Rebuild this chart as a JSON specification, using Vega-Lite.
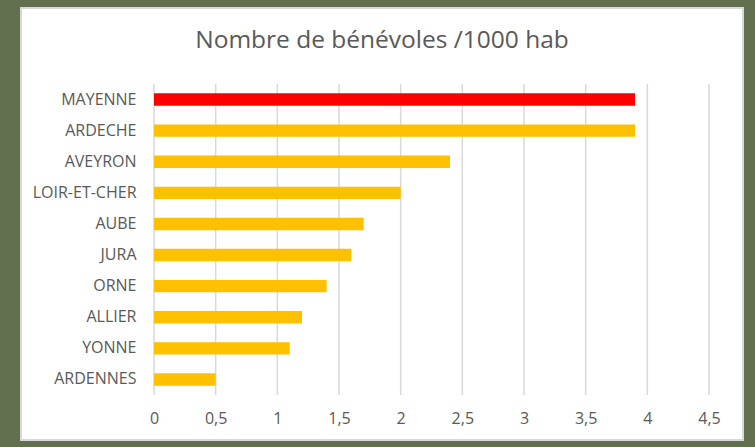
{
  "$schema": "https://vega.github.io/schema/vega-lite/v6.json",
  "autosize": "none",
  "width": 722,
  "height": 432,
  "padding": {"left": 21, "top": 8, "right": 12, "bottom": 7},
  "background": "#637050",
  "config": {
    "view": {"fill": "white", "stroke": "#d9d9d9", "strokeWidth": 2},
    "font": "Open Sans"
  },
  "title": {
    "text": "Nombre de bénévoles /1000 hab",
    "fontSize": 24.5,
    "fontWeight": "normal",
    "color": "#595959",
    "font": "Open Sans",
    "anchor": "middle",
    "frame": "group",
    "baseline": "alphabetic",
    "offset": -64
  },
  "data": {
    "values": [
      {"departement": "MAYENNE", "benevoles": 3.9},
      {"departement": "ARDECHE", "benevoles": 3.9},
      {"departement": "AVEYRON", "benevoles": 2.4},
      {"departement": "LOIR-ET-CHER", "benevoles": 2.0},
      {"departement": "AUBE", "benevoles": 1.7},
      {"departement": "JURA", "benevoles": 1.6},
      {"departement": "ORNE", "benevoles": 1.4},
      {"departement": "ALLIER", "benevoles": 1.2},
      {"departement": "YONNE", "benevoles": 1.1},
      {"departement": "ARDENNES", "benevoles": 0.5}
    ]
  },
  "layer": [
    {
      "data": {"values": [{"v": 0}, {"v": 0.5}, {"v": 1}, {"v": 1.5}, {"v": 2}, {"v": 2.5}, {"v": 3}, {"v": 3.5}, {"v": 4}, {"v": 4.5}]},
      "mark": {"type": "rule", "color": "#d9d9d9", "strokeWidth": 1.5},
      "encoding": {
        "x": {"field": "v", "type": "quantitative"},
        "y": {"datum": 0, "type": "quantitative", "scale": {"domain": [0, 1], "range": [76, 387], "nice": false, "zero": false}, "axis": null},
        "y2": {"datum": 1}
      }
    },
    {
      "mark": {"type": "bar"},
      "encoding": {
        "y": {
          "field": "departement",
          "type": "nominal",
          "sort": null,
          "scale": {"range": [76, 387], "paddingInner": 0.6, "paddingOuter": 0.3},
          "axis": {
            "title": null,
            "domain": false,
            "ticks": false,
            "tickSize": 0,
            "labelPadding": 0,
            "offset": -115,
            "labelFontSize": 16,
            "labelColor": "#595959",
            "labelFont": "Open Sans",
            "grid": false
          }
        },
        "x": {
          "field": "benevoles",
          "type": "quantitative",
          "scale": {"domain": [0, 4.5], "range": [133, 688], "nice": false, "zero": true},
          "axis": {
            "title": null,
            "domain": false,
            "ticks": false,
            "tickSize": 0,
            "values": [0, 0.5, 1, 1.5, 2, 2.5, 3, 3.5, 4, 4.5],
            "labelExpr": "replace(toString(datum.value), '.', ',')",
            "labelFlush": false,
            "offset": -45,
            "labelPadding": 15,
            "labelFontSize": 16,
            "labelColor": "#595959",
            "labelFont": "Open Sans",
            "grid": false
          }
        },
        "color": {
          "condition": {"test": "datum.departement === 'MAYENNE'", "value": "#ff0000"},
          "value": "#ffc000"
        }
      }
    }
  ],
  "resolve": {"scale": {"y": "independent"}}
}
